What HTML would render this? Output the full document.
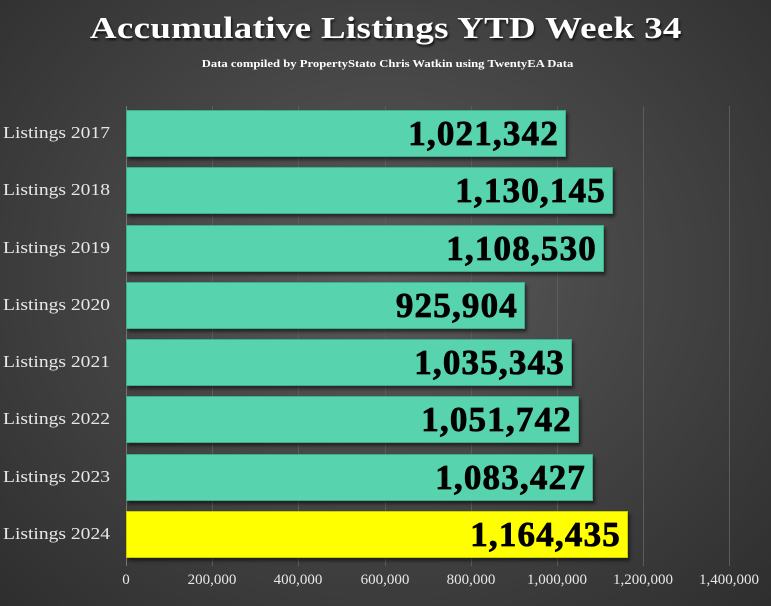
<!DOCTYPE html>
<html><head><meta charset="utf-8"><style>
body{margin:0;width:771px;height:606px;overflow:hidden;font-family:"Liberation Serif",serif;}
.bg{position:absolute;left:0;top:0;width:771px;height:606px;background:radial-gradient(ellipse at 50% 45%,#5a5a5a 0%,#464646 45%,#2e2e2e 100%);}
.title{position:absolute;left:0;width:771px;top:10px;text-align:center;color:#fff;font-weight:bold;font-size:31px;text-shadow:1px 2px 2px #111;letter-spacing:0.3px;transform:scaleX(1.19);transform-origin:384px 0}
.sub{position:absolute;left:0;width:771px;top:58px;text-align:center;color:#fff;font-size:11px;font-weight:bold;transform:scaleX(1.15);transform-origin:372px 0}
.grid{position:absolute;top:106px;height:460px;width:1px;background:#5c5c5c}
.bar{position:absolute;left:126px;height:47px;background:#57d3ad;box-shadow:2px 3px 3px rgba(0,0,0,0.5);border:1px solid #3fae8c;box-sizing:border-box}
.val{position:absolute;right:6px;top:3px;font-size:35px;font-weight:bold;color:#000;letter-spacing:1.2px;-webkit-text-stroke:0.8px #000}
.cat{position:absolute;left:3px;width:107px;text-align:left;color:#e8e8e8;font-size:17px;transform:scaleX(1.15);transform-origin:0 0}
.tick{position:absolute;top:572px;width:90px;margin-left:-45px;text-align:center;color:#e8e8e8;font-size:15px}
</style></head><body><div class="bg"></div>
<div class="title">Accumulative Listings YTD Week 34</div>
<div class="sub">Data compiled by PropertyStato Chris Watkin using TwentyEA Data</div>
<div class="grid" style="left:126px;background:#777"></div>
<div class="grid" style="left:212px"></div><div class="grid" style="left:298px"></div><div class="grid" style="left:385px"></div><div class="grid" style="left:471px"></div><div class="grid" style="left:557px"></div><div class="grid" style="left:643px"></div><div class="grid" style="left:729px"></div>

<div class="bar" style="top:110px;width:440px"><span class="val">1,021,342</span></div>
<div class="bar" style="top:167px;width:487px"><span class="val">1,130,145</span></div>
<div class="bar" style="top:225px;width:478px"><span class="val">1,108,530</span></div>
<div class="bar" style="top:282px;width:399px"><span class="val">925,904</span></div>
<div class="bar" style="top:339px;width:446px"><span class="val">1,035,343</span></div>
<div class="bar" style="top:396px;width:453px"><span class="val">1,051,742</span></div>
<div class="bar" style="top:454px;width:467px"><span class="val">1,083,427</span></div>
<div class="bar" style="top:511px;width:502px;background:#ffff00;border-color:#cccc00"><span class="val">1,164,435</span></div>

<div class="cat" style="top:123px">Listings 2017</div>
<div class="cat" style="top:180px">Listings 2018</div>
<div class="cat" style="top:238px">Listings 2019</div>
<div class="cat" style="top:295px">Listings 2020</div>
<div class="cat" style="top:352px">Listings 2021</div>
<div class="cat" style="top:409px">Listings 2022</div>
<div class="cat" style="top:467px">Listings 2023</div>
<div class="cat" style="top:524px">Listings 2024</div>

<div class="tick" style="left:126px">0</div>
<div class="tick" style="left:212px">200,000</div>
<div class="tick" style="left:298px">400,000</div>
<div class="tick" style="left:385px">600,000</div>
<div class="tick" style="left:471px">800,000</div>
<div class="tick" style="left:557px">1,000,000</div>
<div class="tick" style="left:643px">1,200,000</div>
<div class="tick" style="left:729px">1,400,000</div>
</body></html>
